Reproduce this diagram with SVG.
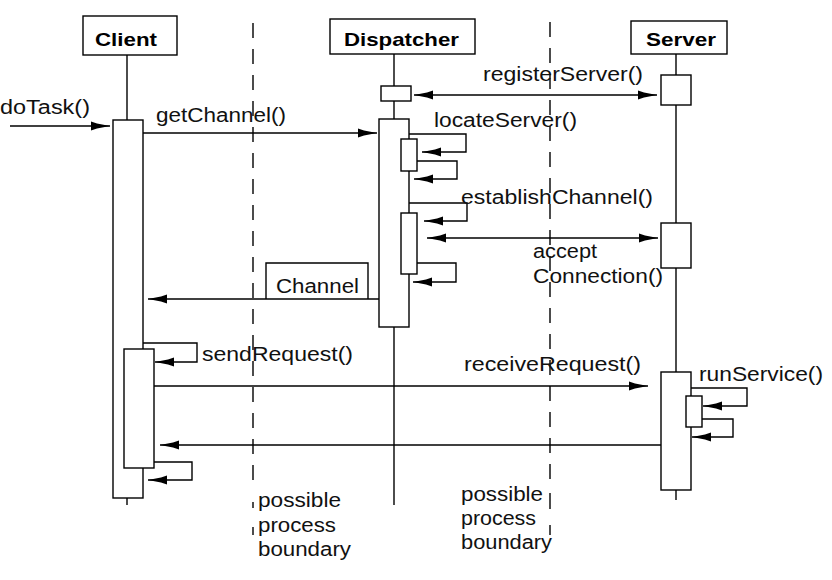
<svg xmlns="http://www.w3.org/2000/svg" width="832" height="580" viewBox="0 0 832 580">
<style>
.box{fill:#fff;stroke:#000;stroke-width:1.4}
.ln{fill:none;stroke:#000;stroke-width:1.4}
.dash{fill:none;stroke:#000;stroke-width:1.4;stroke-dasharray:15 11}
.hd{font-family:"Liberation Sans",Arial,sans-serif;font-weight:bold;font-size:19px;fill:#000}
.tx{font-family:"Liberation Sans",Arial,sans-serif;font-size:19.5px;fill:#111}
.arr{fill:none;stroke:#000;stroke-width:1.4;marker-end:url(#ah)}
.arr2{fill:none;stroke:#000;stroke-width:1.4;marker-end:url(#ah);marker-start:url(#ah)}
</style>
<defs>
<marker id="ah" markerUnits="userSpaceOnUse" viewBox="0 0 19 10" refX="19" refY="5" markerWidth="19" markerHeight="10" orient="auto-start-reverse">
<path d="M0,0.5 L6,2.5 L19,5 L6,7.5 L0,9.5 z" fill="#000"/>
</marker>
</defs>
<rect width="832" height="580" fill="#fff"/>

<g id="boundaries">
<line class="dash" x1="253" y1="23" x2="253" y2="482"/>
<line class="ln" x1="253" y1="502" x2="253" y2="508"/>
<line class="ln" x1="253" y1="527" x2="253" y2="535"/>
<line class="dash" x1="550" y1="22" x2="550" y2="482"/>
<line class="ln" x1="550" y1="493" x2="550" y2="509"/>
<line class="ln" x1="550" y1="525" x2="550" y2="535"/>
<text class="tx" x="258" y="507" textLength="83" lengthAdjust="spacingAndGlyphs">possible</text>
<text class="tx" x="258" y="532" textLength="78" lengthAdjust="spacingAndGlyphs">process</text>
<text class="tx" x="258" y="556" textLength="93" lengthAdjust="spacingAndGlyphs">boundary</text>
<text class="tx" x="461" y="501" textLength="82" lengthAdjust="spacingAndGlyphs">possible</text>
<text class="tx" x="461" y="525" textLength="75" lengthAdjust="spacingAndGlyphs">process</text>
<text class="tx" x="461" y="549" textLength="91" lengthAdjust="spacingAndGlyphs">boundary</text>
</g>

<g id="client">
<line class="ln" x1="127" y1="55" x2="127" y2="120"/>
<line class="ln" x1="127" y1="498" x2="127" y2="505"/>
<rect class="box" x="83" y="16" width="94" height="39"/>
<text class="hd" x="95" y="46" textLength="62" lengthAdjust="spacingAndGlyphs">Client</text>
<rect class="box" x="113" y="120" width="30" height="378"/>
<rect class="box" x="124" y="349" width="30" height="119"/>
</g>

<g id="dispatcher">
<line class="ln" x1="394" y1="54" x2="394" y2="86"/>
<line class="ln" x1="394" y1="101" x2="394" y2="119"/>
<line class="ln" x1="394" y1="327" x2="394" y2="505"/>
<rect class="box" x="330" y="19" width="145" height="35"/>
<text class="hd" x="344" y="46" textLength="115" lengthAdjust="spacingAndGlyphs">Dispatcher</text>
<rect class="box" x="381" y="86" width="30" height="15"/>
<rect class="box" x="379" y="119" width="30" height="208"/>
<rect class="box" x="401" y="139" width="16" height="32"/>
<rect class="box" x="401" y="213" width="16" height="61"/>
</g>

<g id="server">
<line class="ln" x1="676" y1="54" x2="676" y2="75"/>
<line class="ln" x1="676" y1="105" x2="676" y2="223"/>
<line class="ln" x1="676" y1="268" x2="676" y2="372"/>
<line class="ln" x1="676" y1="490" x2="676" y2="500"/>
<rect class="box" x="631" y="21" width="96" height="33"/>
<text class="hd" x="646" y="46" textLength="70" lengthAdjust="spacingAndGlyphs">Server</text>
<rect class="box" x="661" y="75" width="30" height="30"/>
<rect class="box" x="661" y="223" width="30" height="45"/>
<rect class="box" x="661" y="372" width="30" height="118"/>
<rect class="box" x="686" y="396" width="16" height="31"/>
</g>

<g id="channel-box">
<path class="ln" d="M266,299 V263 H368 V299"/>
<text class="tx" x="276" y="293" textLength="83" lengthAdjust="spacingAndGlyphs">Channel</text>
</g>

<g id="connectors">
<path class="arr" d="M10,126 H110"/>
<path class="arr" d="M143,133 H377"/>
<path class="arr2" d="M414,95 H657"/>
<path class="arr" d="M409,134 H466 V152 H422"/>
<path class="arr" d="M417,161 H457 V179 H414"/>
<path class="arr" d="M409,203 H467 V221 H424"/>
<path class="arr2" d="M427,238 H658"/>
<path class="arr" d="M417,263 H456 V282 H413"/>
<path class="arr" d="M379,299 H148"/>
<path class="arr" d="M143,343 H197 V362 H155"/>
<path class="arr" d="M154,386 H648"/>
<path class="arr" d="M691,388 H747 V406 H703"/>
<path class="arr" d="M702,419 H733 V437 H692"/>
<path class="arr" d="M661,445 H160"/>
<path class="arr" d="M154,462 H192 V480 H148"/>
</g>

<g id="labels">
<text class="tx" x="0" y="114" textLength="90" lengthAdjust="spacingAndGlyphs">doTask()</text>
<text class="tx" x="156" y="122" textLength="130" lengthAdjust="spacingAndGlyphs">getChannel()</text>
<text class="tx" x="483" y="81" textLength="160" lengthAdjust="spacingAndGlyphs">registerServer()</text>
<text class="tx" x="434" y="127" textLength="143" lengthAdjust="spacingAndGlyphs">locateServer()</text>
<text class="tx" x="461" y="204" textLength="192" lengthAdjust="spacingAndGlyphs">establishChannel()</text>
<text class="tx" x="533" y="258" textLength="64" lengthAdjust="spacingAndGlyphs">accept</text>
<text class="tx" x="533" y="283" textLength="130" lengthAdjust="spacingAndGlyphs">Connection()</text>
<text class="tx" x="202" y="361" textLength="151" lengthAdjust="spacingAndGlyphs">sendRequest()</text>
<text class="tx" x="464" y="371" textLength="177" lengthAdjust="spacingAndGlyphs">receiveRequest()</text>
<text class="tx" x="699" y="381" textLength="124" lengthAdjust="spacingAndGlyphs">runService()</text>
</g>
</svg>
